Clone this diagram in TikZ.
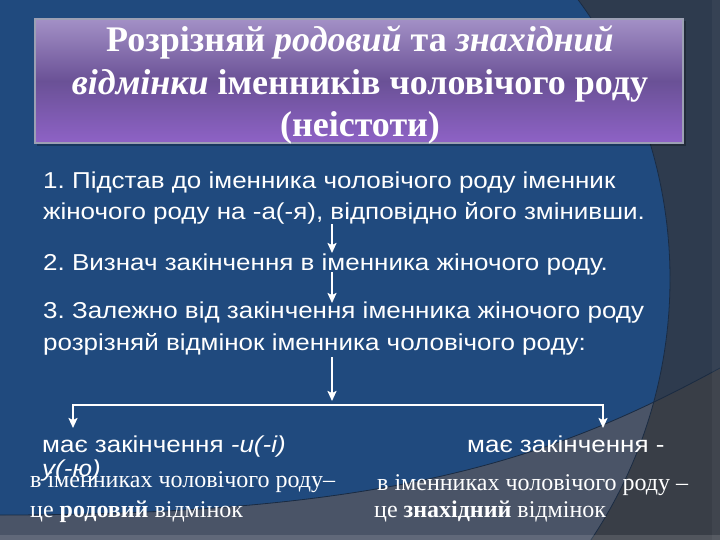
\documentclass[tikz,border=0pt]{standalone}
\usepackage{fontspec}
\setmainfont{Liberation Serif}
\newfontfamily\bodyfont[FakeStretch=1.13]{Liberation Sans}
\usetikzlibrary{positioning,arrows.meta}
\frenchspacing

\definecolor{bgdark}{HTML}{393E47}
\definecolor{bgslate}{HTML}{2E3B4E}
\definecolor{bgblue}{HTML}{204A7E}
\definecolor{bggrey}{HTML}{4A5467}
\definecolor{bgedge}{HTML}{1A2B42}
\definecolor{boxtop}{HTML}{A390C6}
\definecolor{boxmid}{HTML}{6A5196}
\definecolor{boxbot}{HTML}{8E62C6}
\definecolor{boxedge}{HTML}{9CA0B4}

\tikzset{
  titletext/.style={font=\bfseries\fontsize{36}{42.5}\selectfont, text=white, align=center, inner sep=0pt, anchor=base},
  steptext/.style={font=\bodyfont\fontsize{23}{32}\selectfont, text=white, anchor=base west, inner sep=0pt, align=left},
  casetext/.style={font=\fontsize{24}{30}\selectfont, text=white, anchor=base west, inner sep=0pt},
  flowarrow/.style={white, line width=2.2pt, -{Stealth[length=10pt,width=9pt,inset=2pt]}},
}

\begin{document}
\begin{tikzpicture}[x=1pt,y=-1pt]
\useasboundingbox (0,0) rectangle (720,540);

% background
\fill[bgdark] (0,0) rectangle (720,540);
\fill[bgslate] (0,0) -- (0,515) .. controls (400,515) and (560,455) .. (720,368) -- (720,0) -- cycle;
\begin{scope}
  \clip (200,279) circle (470);
  \fill[bggrey] (0,0) rectangle (720,540);
  \fill[bgblue] (0,0) -- (0,515) .. controls (400,515) and (560,455) .. (720,368) -- (720,0) -- cycle;
\end{scope}
\draw[bgedge, line width=0.8pt] (200,279) circle (470);
\draw[bgedge, line width=0.8pt] (0,515) .. controls (400,515) and (560,455) .. (720,368);
\fill[white, opacity=0.04] (712,0) rectangle (720,540);
\fill[white, opacity=0.12] (0,535) rectangle (720,540);

% title box
\fill[black, opacity=0.25] (37,21) rectangle (686,146);
\shade[top color=boxtop, bottom color=boxbot, middle color=boxmid] (35,19) rectangle (683,143);
\draw[boxedge, line width=1.2pt] (35,19) rectangle (683,143);
\node[titletext] (title) at (360,137) {Розрізняй \textit{родовий} та \textit{знахідний}\\
  \textit{відмінки} іменників чоловічого роду\\
  (неістоти)};

% steps
\node[steptext] (step1) at (43,220) {1. Підстав до іменника чоловічого роду іменник\\
  жіночого роду на -а(-я), відповідно його змінивши.};
\node[steptext] (step2) at (43,270) {2. Визнач закінчення в іменника жіночого роду.};
\node[steptext] (step3) at (43,350) {3. Залежно від закінчення іменника жіночого роду\\
  розрізняй відмінок іменника чоловічого роду:};

% cases
\node[steptext] (left1) at (42,452) {має закінчення \textit{-и(-і)}};
\node[steptext] (left2) at (42,476) {\textit{у(-ю)}};
\node[casetext] (leftres1) at (30,487) {в іменниках чоловічого роду–};
\node[casetext] (leftres2) at (30,517) {це \textbf{родовий} відмінок};
\node[steptext] (right1) at (467,452) {має закінчення -};
\node[casetext] (rightres1) at (377,490) {в іменниках чоловічого роду –};
\node[casetext] (rightres2) at (374,517) {це \textbf{знахідний} відмінок};

% arrows
\coordinate (a1s) at (332,224);
\coordinate (a1e) at (332,253);
\coordinate (a2s) at (332,272);
\coordinate (a2e) at (332,303);
\coordinate (a3s) at (332,357);
\coordinate (a3e) at (332,401);
\coordinate (forkl) at (73,405);
\coordinate (forkr) at (603,405);
\coordinate (tipl) at (73,428);
\coordinate (tipr) at (603,428);
\draw[flowarrow] (a1s) -- (a1e);
\draw[flowarrow] (a2s) -- (a2e);
\draw[flowarrow] (a3s) -- (a3e);
\draw[flowarrow] (forkr) -- (forkl) -- (tipl);
\draw[flowarrow] (forkl) -- (forkr) -- (tipr);

\end{tikzpicture}
\end{document}
